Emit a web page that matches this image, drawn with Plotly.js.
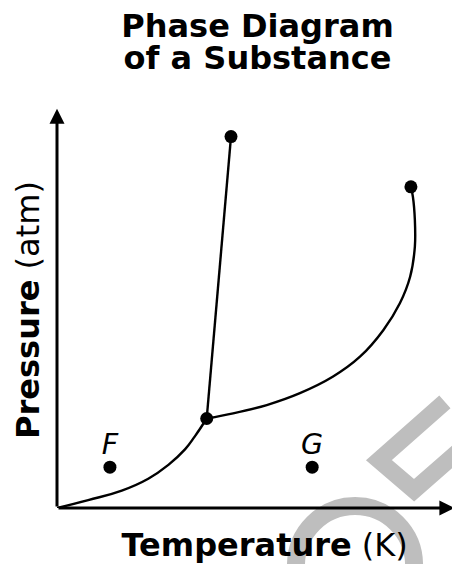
<!DOCTYPE html>
<html>
<head>
<meta charset="utf-8">
<script src="https://cdn.plot.ly/plotly-3.0.1.min.js"></script>
<style>html,body{margin:0;padding:0;background:#fff;}</style>
</head>
<body>
<div id="chart" style="width:452px;height:564px;"></div>
<script>
// Sublimation curve (solid-gas)
const sublimT = [0, 7.9, 16.4, 23.1, 28.2, 32.4, 34.9, 37.9];
const sublimP = [0, 2.0, 4.4, 7.4, 10.9, 14.8, 18.1, 22.6];
// Melting line (solid-liquid)
const meltT = [37.9, 44.05];
const meltP = [22.6, 93.8];
// Vaporization curve (liquid-gas), ends at the critical point
const vapT = [37.9, 44.6, 53.1, 61.5, 69.9, 76.7, 82.6, 86.8, 89.4, 90.6, 90.6, 90.1, 89.6];
const vapP = [22.6, 23.9, 26.0, 29.0, 33.2, 38.2, 44.9, 51.7, 58.4, 66.0, 72.7, 78.6, 81.1];
// Marked points: triple point, melting line end, critical point
const keyT = [37.9, 44.05, 89.6];
const keyP = [22.6, 93.8, 81.1];
// Labelled points
const ptLabels = ['F', 'G'];
const ptT = [13.4, 64.6];
const ptP = [10.3, 10.3];
// Axis extents
const tMax = 100;
const pMax = 100;

const lineStyle = {color: '#000', width: 2.4};
const traces = [
  {x: sublimT, y: sublimP, mode: 'lines', line: Object.assign({shape: 'spline', smoothing: 1.3}, lineStyle), hoverinfo: 'skip'},
  {x: meltT, y: meltP, mode: 'lines', line: lineStyle, hoverinfo: 'skip'},
  {x: vapT, y: vapP, mode: 'lines', line: Object.assign({shape: 'spline', smoothing: 1}, lineStyle), hoverinfo: 'skip'},
  {x: keyT, y: keyP, mode: 'markers', marker: {color: '#000', size: 13}, hoverinfo: 'skip'},
  {x: ptT, y: ptP, mode: 'markers', marker: {color: '#000', size: 13}, hoverinfo: 'skip'},
  {x: ptT, y: ptP, mode: 'markers+text', text: ptLabels, textposition: 'top center',
   textfont: {family: 'DejaVu Sans', size: 28.5, style: 'italic', color: '#000'},
   marker: {color: 'rgba(0,0,0,0)', size: 8}, hoverinfo: 'skip'}
];

const font = 'DejaVu Sans';
const arrowStyle = {showarrow: true, arrowhead: 2, arrowsize: 1, arrowwidth: 3, arrowcolor: '#000', text: '',
                    xref: 'x', yref: 'y', axref: 'x', ayref: 'y'};
const layout = {
  width: 452, height: 564,
  margin: {l: 57, r: 0, t: 112, b: 56},
  paper_bgcolor: '#fff', plot_bgcolor: '#fff',
  showlegend: false,
  title: {
    text: '<span style="font-size:32px">Phase Diagram</span><br><span style="font-size:32px">of a Substance</span>',
    font: {family: font, size: 24.6, weight: 'bold', color: '#000'},
    x: 0.5076, xref: 'paper', xanchor: 'center',
    y: 0.9336, yref: 'container', yanchor: 'top'
  },
  xaxis: {
    range: [0, tMax], showgrid: false, zeroline: false, showline: false,
    showticklabels: false, ticks: '', fixedrange: true,
    title: {text: '&nbsp;&nbsp;<b>Temperature</b> (K)', font: {family: font, size: 32, color: '#000'}, standoff: 25}
  },
  yaxis: {
    range: [0, pMax], showgrid: false, zeroline: false, showline: false,
    showticklabels: false, ticks: '', fixedrange: true,
    title: {text: '<b>Pressure</b> (atm)', font: {family: font, size: 32, color: '#000'}, standoff: 6}
  },
  annotations: [
    Object.assign({x: tMax + 0.6, y: 0, ax: 0, ay: 0}, arrowStyle),
    Object.assign({x: 0, y: pMax + 0.8, ax: 0, ay: 0}, arrowStyle)
  ],
  shapes: [
    {type: 'path', xref: 'paper', yref: 'paper', layer: 'below',
     path: 'M 0.982 0.268 L 0.815 0.121 L 0.904 0.045 L 1.02 0.146',
     line: {color: '#bebebe', width: 17}},
    {type: 'circle', xref: 'paper', yref: 'paper', layer: 'below',
     x0: 0.605, x1: 0.904, y0: 0.005, y1: -0.293,
     line: {color: '#bebebe', width: 18}}
  ]
};

Plotly.newPlot('chart', traces, layout, {displayModeBar: false, staticPlot: true});
</script>
</body>
</html>
